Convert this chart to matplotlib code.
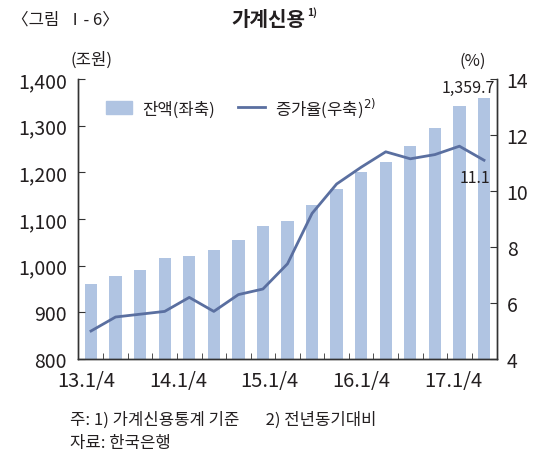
import matplotlib
matplotlib.use("Agg")
import matplotlib.pyplot as plt
import numpy as np

plt.rcParams['font.family'] = ['Noto Sans CJK KR', 'DejaVu Sans']
plt.rcParams['mathtext.fontset'] = 'dejavusans'

quarters = ["13.1/4", "13.2/4", "13.3/4", "13.4/4",
            "14.1/4", "14.2/4", "14.3/4", "14.4/4",
            "15.1/4", "15.2/4", "15.3/4", "15.4/4",
            "16.1/4", "16.2/4", "16.3/4", "16.4/4", "17.1/4"]
balance = [961, 977, 991, 1017, 1021, 1034, 1055, 1084, 1096,
           1131, 1164, 1201, 1223, 1257, 1296, 1343, 1359.7]
growth = [5.0, 5.5, 5.6, 5.7, 6.2, 5.7, 6.3, 6.5, 7.4, 9.2,
          10.25, 10.85, 11.4, 11.15, 11.3, 11.6, 11.1]
xlabels = ["13.1/4", "14.1/4", "15.1/4", "16.1/4", "17.1/4"]
left_ticks = [800, 900, 1000, 1100, 1200, 1300, 1400]
right_ticks = [4, 6, 8, 10, 12, 14]

bar_color = "#b0c4e2"
line_color = "#5a6fa0"
txt = "#231f20"

fig = plt.figure(figsize=(5.54, 4.60), dpi=100)
ax = fig.add_axes([78/554, 100/460, (497-78)/554, 280/460])
ax2 = ax.twinx()

x = np.arange(len(quarters))
ax.bar(x, balance, width=0.5, color=bar_color, zorder=1)
ax2.plot(x, growth, color=line_color, lw=2.0, zorder=3)

ax.set_xlim(-0.53, len(quarters) - 0.47)
ax.set_ylim(800, 1400)
ax2.set_ylim(4, 14)

for a in (ax, ax2):
    a.spines['top'].set_visible(False)
    for s in a.spines.values():
        s.set_color("#333333")
        s.set_linewidth(1.0)

ax.set_yticks(left_ticks)
ax.set_yticklabels([f"{v:,}" for v in left_ticks])
ax.tick_params(axis='y', direction='in', length=5, labelsize=14, colors="#333333",
               labelcolor=txt, pad=8)
ax2.set_yticks(right_ticks)
ax2.set_yticklabels([str(v) for v in right_ticks])
ax2.tick_params(axis='y', direction='in', length=5, labelsize=14, colors="#333333",
                labelcolor=txt, pad=7)

# minor ticks between bars, major labels (no tick mark)
ax.set_xticks(np.arange(0.5, len(quarters) - 1, 1.0), minor=True)
ax.tick_params(axis='x', which='minor', direction='in', length=4, color="#333333")
label_idx = [quarters.index(l) for l in xlabels]
label_pos = [i - 0.2 - i * 0.066 for i in label_idx]
ax.set_xticks(label_pos)
ax.set_xticklabels(xlabels)
ax.tick_params(axis='x', which='major', length=0, labelsize=14.5, labelcolor=txt, pad=8)

# legend
from matplotlib.patches import Patch
from matplotlib.lines import Line2D
handles = [Patch(color=bar_color), Line2D([], [], color=line_color, lw=2)]
leg = ax.legend(handles, ["잔액(좌축)", "증가율(우축)$^{2)}$"], loc='upper left',
                bbox_to_anchor=(0.03, 0.995), ncol=2, frameon=False,
                fontsize=12, handlelength=1.6, handleheight=0.8,
                columnspacing=1.4, handletextpad=0.6)
for t in leg.get_texts():
    t.set_color(txt)

# annotations
ax.annotate(f"{balance[-1]:,.1f}", (x[-1], balance[-1]), xytext=(8, 1),
            textcoords='offset points', ha='right', va='bottom', fontsize=11.5, color=txt)
ax2.annotate(f"{growth[-1]:.1f}", (x[-1], growth[-1]), xytext=(4.5, -6),
             textcoords='offset points', ha='right', va='top', fontsize=11.5, color=txt)

# titles and units
fig.text(12/554, 1 - 20/460, "〈그림  Ⅰ- 6〉", fontsize=12, va='center', ha='left', color=txt)
fig.text(268/554, 1 - 20/460, "가계신용", fontsize=14.5, fontweight='bold', va='center',
         ha='center', color=txt)
fig.text(307/554, 1 - 13/460, "1)", fontsize=7.5, fontweight='bold', va='center',
         ha='left', color=txt)
fig.text(91/554, 1 - 60/460, "(조원)", fontsize=12, va='center', ha='center', color=txt)
fig.text(473/554, 1 - 61/460, "(%)", fontsize=12, va='center', ha='center', color=txt)

fig.text(70/554, 1 - 420/460, "주: 1) 가계신용통계 기준       2) 전년동기대비", fontsize=12,
         va='center', ha='left', color=txt)
fig.text(70/554, 1 - 444/460, "자료: 한국은행", fontsize=12, va='center', ha='left', color=txt)

fig.savefig("out.png", dpi=100)
